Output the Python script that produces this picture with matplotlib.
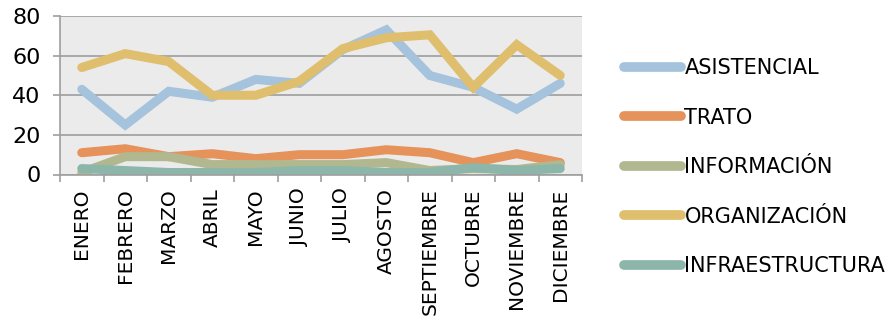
import matplotlib
matplotlib.use("Agg")
import matplotlib.pyplot as plt
import numpy as np

months = ["ENERO", "FEBRERO", "MARZO", "ABRIL", "MAYO", "JUNIO", "JULIO",
          "AGOSTO", "SEPTIEMBRE", "OCTUBRE", "NOVIEMBRE", "DICIEMBRE"]
asistencial = [43, 25, 42, 39, 48, 46, 63, 73, 50, 44, 33, 46]
trato = [11, 13, 9, 10.5, 8, 10, 10, 12.5, 11, 6, 10.5, 6]
informacion = [1, 9, 9, 5, 5, 5, 5, 6, 2, 3, 2.5, 5]
organizacion = [54, 61, 57, 40, 40, 47, 63.5, 69, 70.5, 44, 65.5, 50]
infraestructura = [3, 2, 1, 1, 1, 2, 2, 1, 1, 3.5, 2, 3]
yticks = [0, 20, 40, 60, 80]

series = [
    ("ASISTENCIAL", asistencial, "#A5C3DC"),
    ("TRATO", trato, "#E5925B"),
    ("INFORMACIÓN", informacion, "#B1B88F"),
    ("ORGANIZACIÓN", organizacion, "#DFBE6D"),
    ("INFRAESTRUCTURA", infraestructura, "#8DB6AB"),
]

plt.rcParams['font.family'] = ['DejaVu Sans']
fs = 15

fig = plt.figure(figsize=(8.93, 3.2), dpi=100)
ax = fig.add_axes([60/893, 1-174.5/320, (582-60)/893, (174.5-16)/320])
ax.set_facecolor("#EBEBEB")

x = np.arange(len(months))
for name, vals, col in series:
    ax.plot(x, vals, color=col, lw=6.5, solid_capstyle='round',
            solid_joinstyle='miter', label=name)

ax.set_xlim(-0.5, len(months) - 0.5)
ax.set_ylim(0, 80)
ax.set_yticks(yticks)
ax.set_yticklabels([str(v) for v in yticks], fontsize=16)
ax.yaxis.grid(True, color="#9E9E9E", lw=1.2)
ax.set_axisbelow(True)

ax.set_xticks(x)
ax.set_xticklabels(months, rotation=90, fontsize=14.5)
ax.set_xticks(np.arange(len(months) + 1) - 0.5, minor=True)
ax.tick_params(axis='x', which='major', length=0, pad=10)
ax.tick_params(axis='x', which='minor', length=5, color="#9E9E9E", width=1.2)
ax.tick_params(axis='y', length=5, color="#9E9E9E", width=1.2, pad=9)

for s in ['top', 'right']:
    ax.spines[s].set_visible(False)
for s in ['left', 'bottom']:
    ax.spines[s].set_color("#9E9E9E")
    ax.spines[s].set_linewidth(1.2)

leg = fig.legend(loc='upper left', bbox_to_anchor=(624/893, 1 - 58/320),
                 frameon=False, fontsize=fs, handlelength=2.75,
                 handletextpad=0.15, labelspacing=1.42, borderaxespad=0,
                 borderpad=0)
for h in leg.get_lines():
    h.set_linewidth(7)
    h.set_solid_capstyle('round')

fig.savefig("out.png", dpi=100)
